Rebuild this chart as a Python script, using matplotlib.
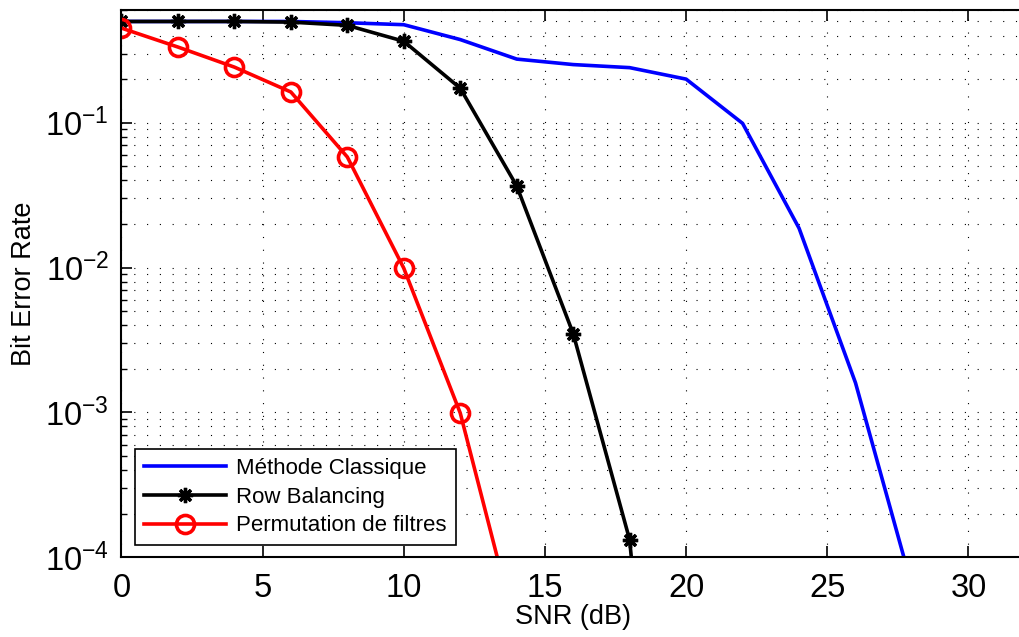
import numpy as np
import matplotlib
matplotlib.use("Agg")
import matplotlib.pyplot as plt
from matplotlib.ticker import FixedLocator, LogLocator, NullFormatter

plt.rcParams['font.family'] = ['Liberation Sans', 'DejaVu Sans']
plt.rcParams['mathtext.fontset'] = 'custom'
plt.rcParams['mathtext.rm'] = 'Liberation Sans'
plt.rcParams['mathtext.it'] = 'Liberation Sans'
plt.rcParams['mathtext.default'] = 'regular'

# SNR values (dB)
snr = [0, 2, 4, 6, 8, 10, 12, 14, 16, 18, 20, 22, 24, 26, 28]
ber_classique = [0.5, 0.5, 0.5, 0.5, 0.49, 0.475, 0.375, 0.275, 0.252, 0.24, 0.2,
                 0.099, 0.0187, 0.0016, 6.3e-5]

snr_rb = [0, 2, 4, 6, 8, 10, 12, 14, 16, 18, 20]
ber_rb = [0.5, 0.5, 0.5, 0.495, 0.47, 0.365, 0.173, 0.0366, 0.0035, 1.32e-4, 1e-8]

snr_perm = [0, 2, 4, 6, 8, 10, 12, 14]
ber_perm = [0.45, 0.333, 0.242, 0.163, 0.058, 0.0099, 0.00099, 3e-5]

labels = ['Méthode Classique', 'Row Balancing', 'Permutation de filtres']

fig = plt.figure(figsize=(10.19, 6.37), dpi=100)
ax = fig.add_axes([0.1192, 0.1251, 0.8866, 0.8592])

ax.semilogy(snr, ber_classique, color='#0000ff', lw=2.6, label=labels[0])
ax.semilogy(snr_rb, ber_rb, color='black', lw=2.6, marker=(8, 2, 0), ms=11,
            mew=2.4, label=labels[1])
ax.semilogy(snr_perm, ber_perm, color='#ff0000', lw=2.6, marker='o', ms=13,
            mfc='none', mew=2.6, label=labels[2])

ax.set_xlim(0, 32)
ax.set_ylim(1e-4, 0.6)

ax.xaxis.set_major_locator(FixedLocator([0, 5, 10, 15, 20, 25, 30]))
ax.yaxis.set_major_locator(FixedLocator([1e-4, 1e-3, 1e-2, 1e-1]))
ax.yaxis.set_minor_locator(LogLocator(base=10, subs=np.arange(2, 10), numticks=20))
ax.yaxis.set_minor_formatter(NullFormatter())
ax.set_yticklabels(['$10^{-4}$', '$10^{-3}$', '$10^{-2}$', '$10^{-1}$'])

ax.tick_params(which='both', direction='in', top=True, right=False)
ax.tick_params(which='major', length=8, width=1.2, labelsize=23.5, pad=9)
ax.tick_params(which='minor', length=4, width=1.0)
ax.tick_params(axis='x', which='major', pad=11)

dots = (0, (1, 10.5))
ax.grid(True, which='major', linestyle=dots, color='black', lw=0.8)
ax.grid(True, which='minor', axis='y', linestyle=dots, color='black', lw=0.8)

for s in ['left', 'bottom', 'top']:
    ax.spines[s].set_linewidth(1.5)
ax.spines['right'].set_visible(False)

ax.set_xlabel('SNR (dB)', fontsize=19.5, labelpad=0)
ax.set_ylabel('Bit Error Rate', fontsize=19.5, labelpad=6)

leg = ax.legend(loc='lower left', bbox_to_anchor=(0.015, 0.022), fontsize=16,
                fancybox=False, framealpha=1, edgecolor='black', handlelength=3.7,
                borderpad=0.4, labelspacing=0.35, handletextpad=0.45,
                borderaxespad=0)
leg.get_frame().set_linewidth(1.2)

fig.savefig('out.png', dpi=100)
